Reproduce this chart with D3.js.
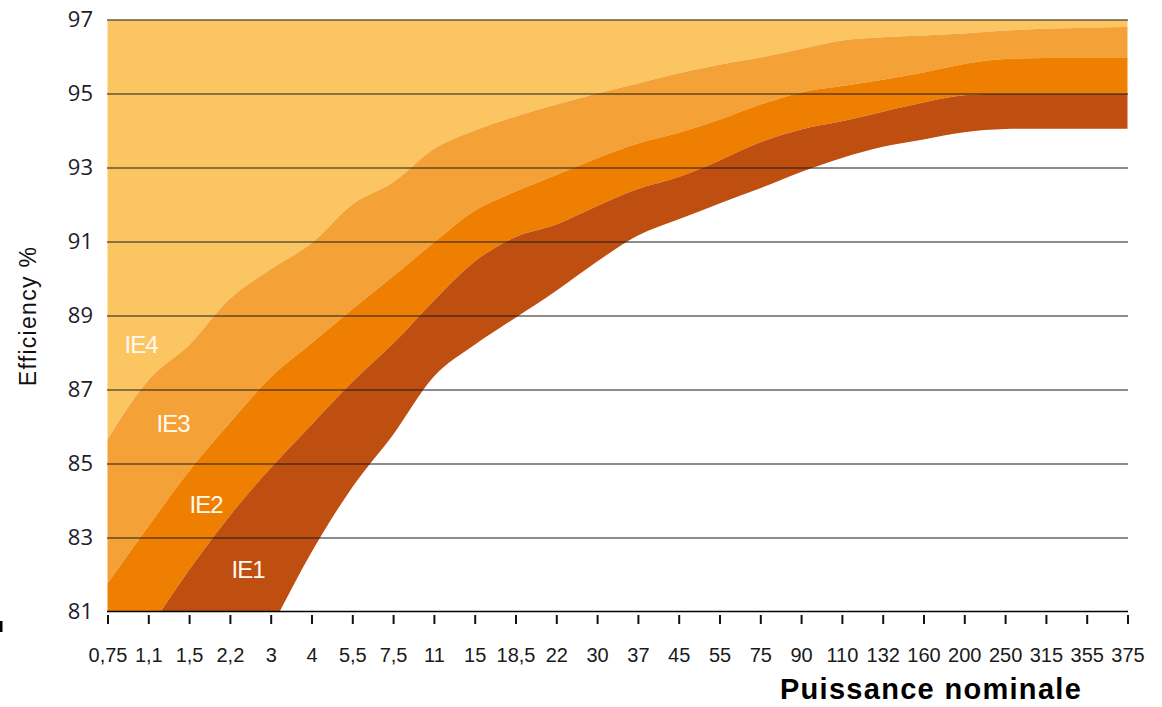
<!DOCTYPE html>
<html>
<head>
<meta charset="UTF-8">
<title>Efficiency classes IE1 - IE4</title>
<script src="https://d3js.org/d3.v7.min.js"></script>
<style>
body { margin: 0; background: #fff; }
svg { display: block; }
.xaxis text { font-family: "Liberation Sans", Arial, sans-serif; font-size: 20px; fill: #1a1a1a; }
.yaxis text { font-family: "Open Sans", sans-serif; font-size: 22px; fill: #1c1c2c; }
.band-label { font-family: "Liberation Sans", Arial, sans-serif; font-size: 24px; fill: #fff8ee; letter-spacing: -1px; }
</style>
</head>
<body>
<div id="chart"></div>
<script>

// power ratings (kW) on the x axis
const categories = ["0,75","1,1","1,5","2,2","3","4","5,5","7,5","11","15","18,5","22","30","37",
                    "45","55","75","90","110","132","160","200","250","315","355","375"];

// lower edge of each class, efficiency %
const ie4Lower = [85.65,87.25,88.2,89.45,90.25,90.95,92.0,92.6,93.5,94.0,94.38,94.7,95.0,95.27,
                  95.55,95.78,95.97,96.2,96.43,96.52,96.57,96.62,96.7,96.75,96.78,96.8];
const ie3Lower = [81.76,83.3,84.8,86.1,87.33,88.25,89.17,90.06,90.97,91.83,92.35,92.8,93.25,93.65,
                  93.94,94.29,94.7,95.03,95.2,95.37,95.57,95.8,95.93,95.96,95.96,95.96];
const ie2Lower = [78.9,80.5,82.12,83.59,84.88,86.05,87.2,88.24,89.4,90.46,91.12,91.46,91.96,92.42,
                  92.74,93.19,93.68,94.03,94.25,94.51,94.76,94.95,95.0,95.0,95.0,95.0];
const ie1Lower = [73.0,75.0,76.8,78.6,80.55,82.6,84.36,85.78,87.35,88.21,88.94,89.67,90.46,91.16,
                  91.6,92.03,92.44,92.88,93.26,93.56,93.76,93.95,94.04,94.05,94.05,94.05];

const seriesNames = ["IE4","IE3","IE2","IE1"];
const yTicks = [81,83,85,87,89,91,93,95,97];
const yDomain = [81, 97];

const colors = {IE4: "#fbc662", IE3: "#f4a138", IE2: "#ee7f01", IE1: "#bf4e11"};

const W = 1162, H = 707;
const plotLeft = 107, plotRight = 1128, plotTop = 19.5, plotBottom = 611.5;

const svg = d3.select("#chart").append("svg")
    .attr("width", W)
    .attr("height", H);

const x = d3.scalePoint()
    .domain(categories)
    .range([plotLeft + 0.5, plotRight - 0.5]);

const y = d3.scaleLinear()
    .domain(yDomain)
    .range([plotBottom, plotTop]);

svg.append("clipPath").attr("id", "plot-clip")
  .append("rect")
    .attr("x", plotLeft).attr("y", plotTop)
    .attr("width", plotRight - plotLeft).attr("height", plotBottom - plotTop);

// bands, each between its lower edge and the next class above
const bands = [
  {name: "IE4", lower: ie4Lower, upper: null},
  {name: "IE3", lower: ie3Lower, upper: ie4Lower},
  {name: "IE2", lower: ie2Lower, upper: ie3Lower},
  {name: "IE1", lower: ie1Lower, upper: ie2Lower}
];

const g = svg.append("g").attr("clip-path", "url(#plot-clip)");

bands.forEach(function(b) {
  const area = d3.area()
    .x(function(d) { return x(d); })
    .y0(function(d, i) { return y(b.lower[i]); })
    .y1(function(d, i) { return b.upper ? y(b.upper[i]) : y(yDomain[1]); })
    .curve(d3.curveMonotoneX);
  g.append("path")
    .datum(categories)
    .attr("fill", colors[b.name])
    .attr("d", area);
});

// horizontal grid lines
svg.append("g")
    .attr("transform", `translate(${plotLeft},0)`)
    .call(d3.axisLeft(y).tickValues(yTicks.slice(1)).tickSize(-(plotRight - plotLeft)).tickFormat(""))
    .call(function(s) {
      s.select(".domain").remove();
      s.selectAll("line").attr("stroke", "#1a1a1a").attr("stroke-width", 1.2);
    });

// y labels
svg.append("g")
    .attr("class", "yaxis")
    .attr("transform", `translate(${plotLeft},0)`)
    .call(d3.axisLeft(y).tickValues(yTicks).tickSize(0).tickPadding(14))
    .call(function(s) { s.select(".domain").remove(); });

// x axis line
svg.append("line")
    .attr("x1", plotLeft).attr("x2", plotRight)
    .attr("y1", plotBottom).attr("y2", plotBottom)
    .attr("stroke", "#000").attr("stroke-width", 1.6);

// x ticks sit a little below the line
svg.append("g")
    .attr("class", "xaxis")
    .attr("transform", `translate(0,${plotBottom + 3.5})`)
    .call(d3.axisBottom(x).tickSize(9).tickPadding(24))
    .call(function(s) {
      s.select(".domain").remove();
      s.selectAll("line").attr("stroke", "#111").attr("stroke-width", 2);
    });

// class labels
const labelSpots = [
  {dx: 17, v: 88.0},
  {dx: 49, v: 85.84},
  {dx: 82, v: 83.66},
  {dx: 124, v: 81.9}
];
seriesNames.forEach(function(n, i) {
  svg.append("text")
    .attr("class", "band-label")
    .attr("x", x(categories[0]) + labelSpots[i].dx)
    .attr("y", y(labelSpots[i].v))
    .text(n);
});

// axis titles
svg.append("text")
    .attr("transform", "translate(36,316) rotate(-90)")
    .attr("text-anchor", "middle")
    .attr("font-family", "Liberation Sans, Arial, sans-serif")
    .attr("font-size", "23px")
    .attr("letter-spacing", "1.3px")
    .attr("fill", "#111")
    .text("Efficiency %");

svg.append("text")
    .attr("x", 931)
    .attr("y", 699)
    .attr("text-anchor", "middle")
    .attr("font-family", "Liberation Sans, Arial, sans-serif")
    .attr("font-size", "29px")
    .attr("font-weight", "bold")
    .attr("letter-spacing", "1.3px")
    .attr("fill", "#000")
    .text("Puissance nominale");

// small stray mark at the left edge of the original
svg.append("rect")
    .attr("x", 0).attr("y", 621)
    .attr("width", 2.5).attr("height", 11)
    .attr("fill", "#000");

</script>
</body>
</html>
